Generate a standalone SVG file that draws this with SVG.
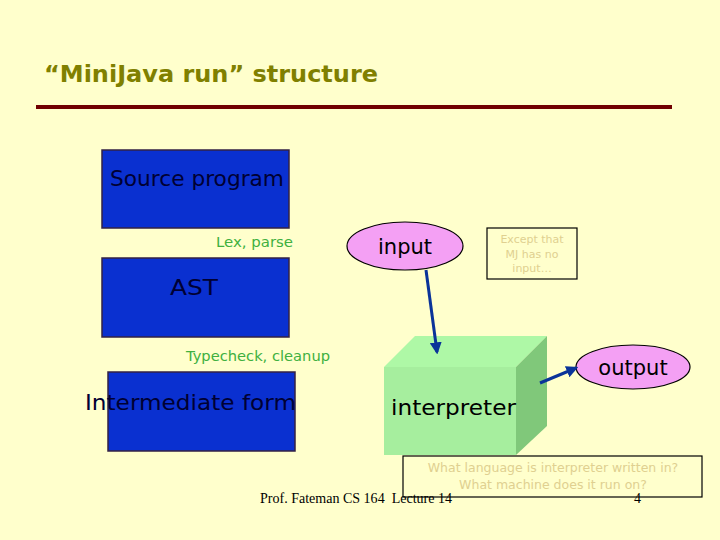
<svg xmlns="http://www.w3.org/2000/svg" width="720" height="540" viewBox="0 0 720 540">
<defs>
<style>
.bg{fill:#ffffcc}
.t{font-family:"DejaVu Sans","Liberation Sans",sans-serif}
.title{font-size:23px;font-weight:bold;fill:#808000}
.blk{fill:#0a30d0;stroke:#332244;stroke-width:1.5}
.lbl{font-size:21px;fill:#000}
.dark{fill:#000033}
.grn{font-size:14px;fill:#40b040}
.ell{fill:#f4a0f4;stroke:#000;stroke-width:1.2}
.note{fill:none;stroke:#000;stroke-width:1.2}
.ntxt{font-size:11px;fill:#e0d090}
.conn{stroke:#0a3399;stroke-width:3;fill:none;marker-end:url(#ah)}
.foot{font-family:"Liberation Serif",serif;font-size:14px;fill:#000}
</style>
<marker id="ah" viewBox="0 0 10 10" refX="8" refY="5" markerWidth="4" markerHeight="4" orient="auto" markerUnits="strokeWidth">
<path d="M0,0 L10,5 L0,10 z" fill="#0a3399"/>
</marker>
</defs>
<rect class="bg" x="0" y="0" width="720" height="540"/>
<g id="title">
<text class="t title" x="44" y="82" textLength="334" lengthAdjust="spacingAndGlyphs">“MiniJava run” structure</text>
<rect x="36" y="105" width="636" height="4" fill="#700000"/>
</g>
<g id="source">
<rect class="blk" x="102" y="150" width="187" height="78"/>
<text class="t lbl dark" x="110" y="186" textLength="174" lengthAdjust="spacingAndGlyphs">Source program</text>
</g>
<g id="lexparse">
<text class="t grn" x="216" y="247" textLength="77" lengthAdjust="spacingAndGlyphs">Lex, parse</text>
</g>
<g id="ast">
<rect class="blk" x="102" y="258" width="187" height="79"/>
<text class="t lbl dark" x="170" y="295" textLength="48" lengthAdjust="spacingAndGlyphs">AST</text>
</g>
<g id="typecheck">
<text class="t grn" x="186" y="361" textLength="144" lengthAdjust="spacingAndGlyphs">Typecheck, cleanup</text>
</g>
<g id="intermediate">
<rect class="blk" x="108" y="372" width="187" height="79"/>
<text class="t lbl dark" x="85" y="410" textLength="211" lengthAdjust="spacingAndGlyphs">Intermediate form</text>
</g>
<g id="input">
<ellipse class="ell" cx="405" cy="246" rx="58" ry="24"/>
<text class="t lbl" x="405" y="254" text-anchor="middle">input</text>
</g>
<g id="except">
<rect class="note" x="487" y="228" width="90" height="51"/>
<text class="t ntxt" x="532" y="243" text-anchor="middle">Except that</text>
<text class="t ntxt" x="532" y="258" text-anchor="middle">MJ has no</text>
<text class="t ntxt" x="532" y="272" text-anchor="middle">input…</text>
</g>
<g id="interpreter">
<polygon points="384,367 415,336 547,336 516,367" fill="#aef8a6"/>
<polygon points="516,367 547,336 547,426 516,455" fill="#80c87a"/>
<rect x="384" y="367" width="132" height="88" fill="#a6ee9e"/>
<text class="t lbl" x="391" y="415" textLength="125" lengthAdjust="spacingAndGlyphs">interpreter</text>
</g>
<g id="output">
<ellipse class="ell" cx="633" cy="367" rx="57" ry="22"/>
<text class="t lbl" x="633" y="375" text-anchor="middle">output</text>
</g>
<g id="connectors">
<line class="conn" x1="426" y1="270" x2="437" y2="352"/>
<line class="conn" x1="540" y1="383" x2="576" y2="368"/>
</g>
<g id="footer">
<text class="foot" x="260" y="503" xml:space="preserve" textLength="192" lengthAdjust="spacingAndGlyphs">Prof. Fateman CS 164  Lecture 14</text>
<text class="foot" x="634" y="503">4</text>
</g>
<g id="question">
<rect class="note" x="403" y="456" width="299" height="41"/>
<text class="t ntxt" x="553" y="472" text-anchor="middle" style="font-size:12.5px">What language is interpreter written in?</text>
<text class="t ntxt" x="553" y="489" text-anchor="middle" style="font-size:12.5px">What machine does it run on?</text>
</g>
</svg>
